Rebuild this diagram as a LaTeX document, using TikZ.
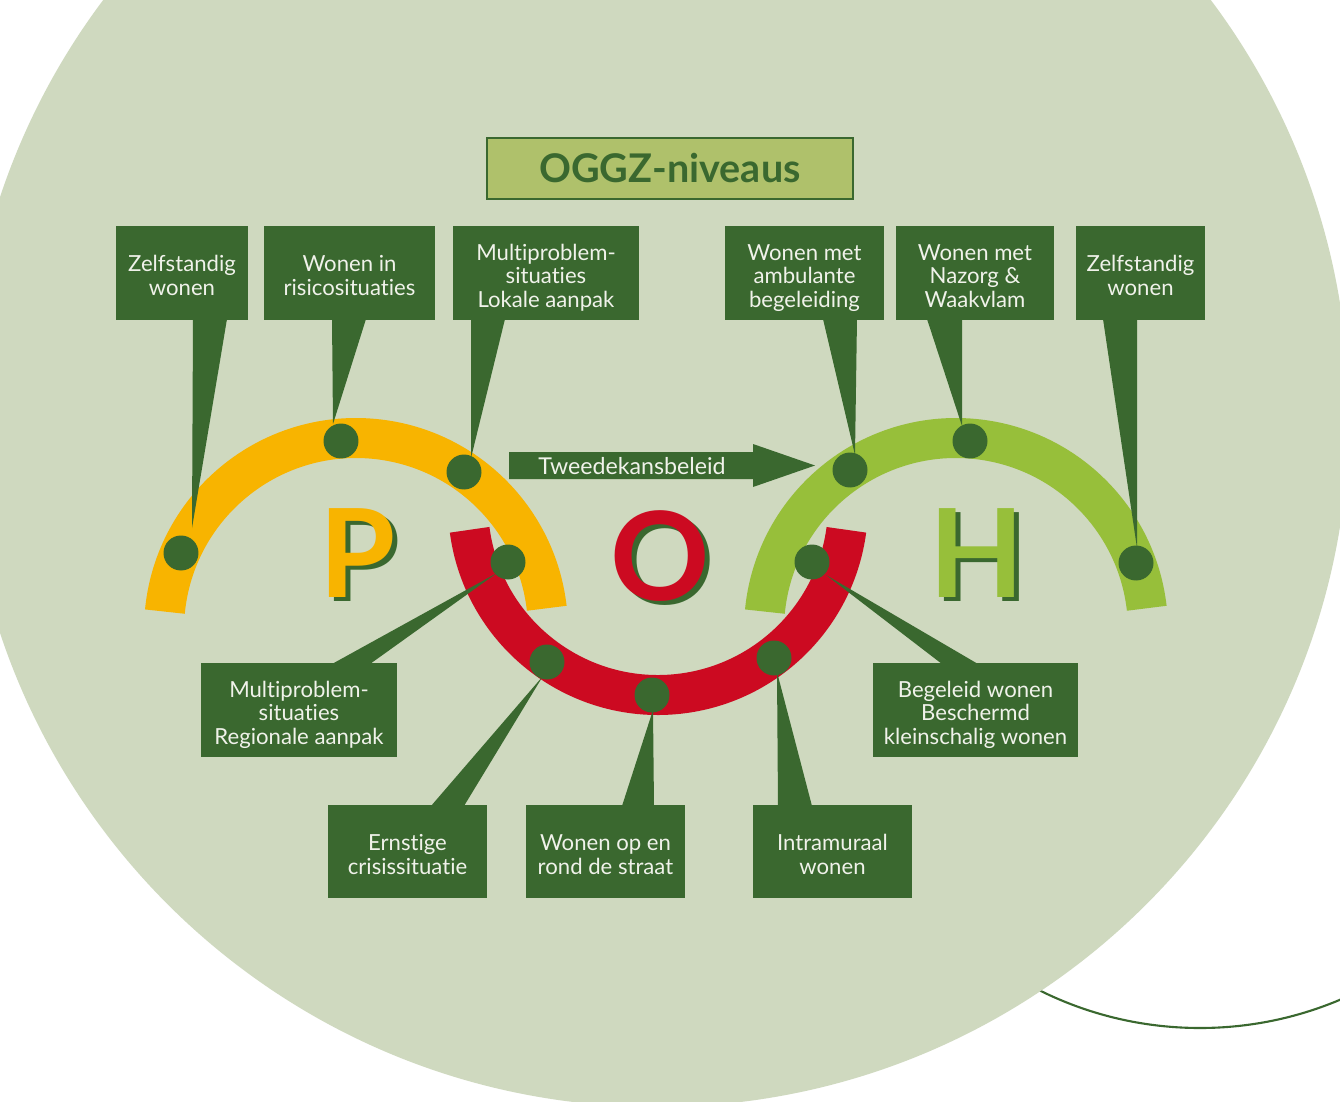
\documentclass[tikz,border=0pt]{standalone}
\usepackage{fontspec}
\setmainfont{Lato}[Ligatures={NoCommon}]
\definecolor{bgg}{HTML}{CFD9BF}
\definecolor{dkg}{HTML}{3A682F}
\definecolor{ttl}{HTML}{AFC16B}
\definecolor{yel}{HTML}{F8B400}
\definecolor{rd}{HTML}{CC0A21}
\definecolor{lgr}{HTML}{97BF3A}
\definecolor{btxt}{HTML}{F0F2EA}
\newcommand{\shadowletter}[2]{\makebox[0pt][l]{\hspace{2.9pt}\raisebox{-2.3pt}{\color{dkg}#2}}{\color{#1}#2}}
\newcommand{\tstr}{\rule{0pt}{15.9pt}}
\newcommand{\bstr}{\rule[-3.5pt]{0pt}{3.5pt}}
\begin{document}
\begin{tikzpicture}[x=0.02cm,y=-0.02cm,
  box/.style={fill=dkg, text=btxt, align=center, inner sep=0pt, minimum height=1.88cm,
    font=\fontsize{12.6}{13.6}\selectfont},
  dot/.style={circle, fill=dkg, inner sep=0pt, minimum size=0.7cm},
  tail/.style={fill=dkg},
  band/.style={line width=0.8cm},
  letter/.style={inner sep=0pt, anchor=base, font=\fontsize{70}{70}\selectfont\bfseries}]
\useasboundingbox (0,0) rectangle (1340,1102);
\clip (0,0) rectangle (1340,1102);
\fill[white] (0,0) rectangle (1340,1102);
% outline circle bottom right
\draw[dkg, line width=1.2pt] (1200,668) circle[radius=360];
% big background circle
\fill[bgg] (657,415) circle[radius=692];
% title
\node[draw=dkg, line width=1.1pt, fill=ttl, text=dkg, minimum width=7.32cm, minimum height=1.22cm,
  inner sep=0pt, font=\fontsize{22.5}{26}\selectfont\bfseries] (title) at (670,168.5) {OGGZ-niveaus};
% bands
\draw[yel, band] (356,630) ++(185.5:192) arc[start angle=185.5, end angle=353.5, radius=192];
\draw[lgr, band] (956,630) ++(185.5:192) arc[start angle=185.5, end angle=353.5, radius=192];
\draw[rd, band] (658,505) ++(172.5:190) arc[start angle=172.5, end angle=7.5, radius=190];
% boxes
\node[box, minimum width=2.64cm] (b1) at (182,273) {\tstr Zelfstandig\\wonen\bstr};
\node[box, minimum width=3.42cm] (b2) at (349.5,273) {\tstr Wonen in\\risicosituaties\bstr};
\node[box, minimum width=3.72cm] (b3) at (546,273) {\tstr Multiproblem-\\situaties\\Lokale aanpak\bstr};
\node[box, minimum width=3.18cm] (b4) at (804.5,273) {\tstr Wonen met\\ambulante\\begeleiding\bstr};
\node[box, minimum width=3.16cm] (b5) at (975,273) {\tstr Wonen met\\Nazorg \&\\Waakvlam\bstr};
\node[box, minimum width=2.58cm] (b6) at (1140.5,273) {\tstr Zelfstandig\\wonen\bstr};
\node[box, minimum width=3.92cm] (b7) at (299,710) {\tstr Multiproblem-\\situaties\\Regionale aanpak\bstr};
\node[box, minimum width=4.10cm] (b8) at (975.5,710) {\tstr Begeleid wonen\\Beschermd\\kleinschalig wonen\bstr};
\node[box, minimum width=3.18cm, minimum height=1.86cm] (b9) at (407.5,851.5) {\tstr Ernstige\\crisissituatie\bstr};
\node[box, minimum width=3.18cm, minimum height=1.86cm] (b10) at (605.5,851.5) {\tstr Wonen op en\\rond de straat\bstr};
\node[box, minimum width=3.18cm, minimum height=1.86cm] (b11) at (832.5,851.5) {\tstr Intramuraal\\wonen\bstr};
% tail tips
\coordinate (t1) at (192,528);
\coordinate (t2) at (333,424);
\coordinate (t3) at (471,458);
\coordinate (t4) at (855,455);
\coordinate (t5) at (962,426);
\coordinate (t6) at (1137,548);
\coordinate (t7) at (497,573);
\coordinate (t8) at (826,575);
\coordinate (t9) at (543,676);
\coordinate (t10) at (653,710);
\coordinate (t11) at (777,672);
% tails
\fill[tail] (193,319) -- (227,319) -- (t1) -- cycle;
\fill[tail] (332,319) -- (366,319) -- (t2) -- cycle;
\fill[tail] (471,319) -- (505,319) -- (t3) -- cycle;
\fill[tail] (823,319) -- (857,319) -- (t4) -- cycle;
\fill[tail] (927,319) -- (962,319) -- (t5) -- cycle;
\fill[tail] (1103,319) -- (1137,319) -- (t6) -- cycle;
\fill[tail] (332,664) -- (370,664) -- (t7) -- cycle;
\fill[tail] (942,664) -- (978,664) -- (t8) -- cycle;
\fill[tail] (431,806) -- (464,806) -- (t9) -- cycle;
\fill[tail] (622,806) -- (654,806) -- (t10) -- cycle;
\fill[tail] (778,806) -- (812,806) -- (t11) -- cycle;
% dots
\node[dot] (d1) at (181,553) {};
\node[dot] (d2) at (341,441) {};
\node[dot] (d3) at (464,472) {};
\node[dot] (d4) at (850,470) {};
\node[dot] (d5) at (970,441) {};
\node[dot] (d6) at (1136,563) {};
\node[dot] (d7) at (508,562) {};
\node[dot] (d8) at (812,562) {};
\node[dot] (d9) at (547,662) {};
\node[dot] (d10) at (652,695) {};
\node[dot] (d11) at (774,658) {};
% arrow
\fill[dkg] (509,452) -- (753,452) -- (753,444) -- (815,465.5) -- (753,487) -- (753,479) -- (509,479) -- cycle;
\node[text=btxt, inner sep=0pt, font=\fontsize{13.2}{15}\selectfont] (arr) at (632,466) {Tweedekansbeleid};
% letters
\node[letter] (P) at (357.5,597) {\shadowletter{yel}{P}};
\node[letter] (O) at (660,600) {\shadowletter{rd}{O}};
\node[letter] (H) at (977,597) {\shadowletter{lgr}{H}};
\end{tikzpicture}
\end{document}
